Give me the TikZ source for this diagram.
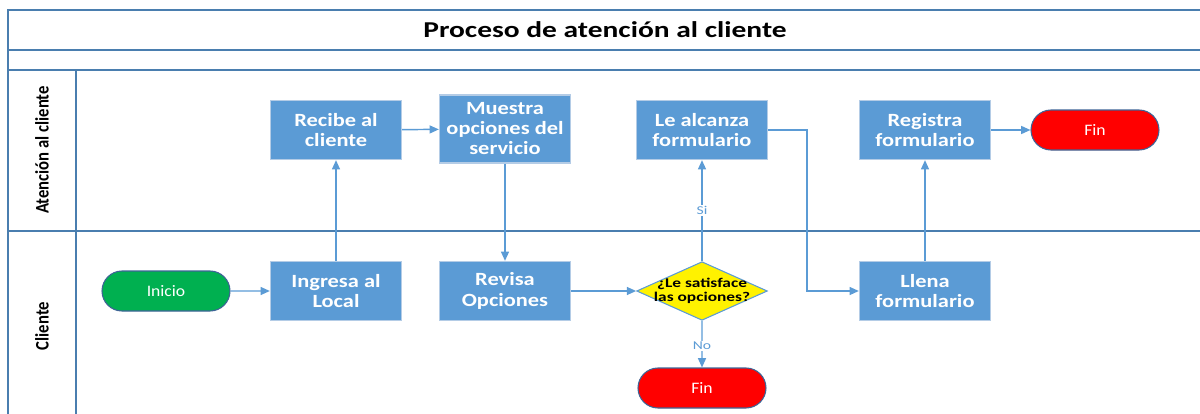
\documentclass[tikz,border=0pt]{standalone}
\usepackage{fontspec}
\setmainfont{Carlito}
\newfontfamily\stfontA[FakeStretch=1.2]{Carlito}
\newfontfamily\stfontB[FakeStretch=1.3]{Carlito}
\newfontfamily\stfontC[FakeStretch=1.1]{Carlito}
\usetikzlibrary{shapes.geometric,shapes.misc,arrows.meta}
\definecolor{boxblue}{HTML}{5B9BD5}
\definecolor{lanec}{HTML}{4A7EAF}
\definecolor{boxedge}{HTML}{B4CCE6}
\definecolor{termedge}{HTML}{3E6496}
\definecolor{startg}{HTML}{00B050}
\definecolor{endr}{HTML}{FF0000}
\begin{document}
\begin{tikzpicture}[x=0.75pt,y=-0.75pt,
  procbox/.style={draw=boxedge, line width=1.2pt, fill=boxblue, text=white,
    font=\stfontA\bfseries\fontsize{14}{15.5}\selectfont, align=center,
    minimum width=98pt, minimum height=44pt, inner sep=1pt},
  term/.style={rounded rectangle, draw=termedge, line width=0.8pt, text=white,
    font=\stfontC\fontsize{12}{14}\selectfont, minimum width=98pt, minimum height=30pt, inner sep=1pt},
  decis/.style={diamond, draw=boxblue, line width=0.8pt, fill=yellow,
    minimum width=98pt, minimum height=44pt, inner sep=0pt},
  lane/.style={draw=lanec, line width=1.1pt},
  conn/.style={draw=boxblue, line width=1.1pt, -{Triangle[length=7pt,width=6pt]}},
  edgelab/.style={fill=white, text=boxblue, font=\stfontB\fontsize{9}{10}\selectfont, inner sep=1pt},
  lanelab/.style={rotate=90, font=\bfseries\fontsize{12.5}{14}\selectfont}
]
\useasboundingbox (0,0) rectangle (1200,414);
% frame and lanes
\draw[lane] (8,414) -- (8,10) -- (1200,10);
\draw[lane] (8,50) -- (1200,50);
\draw[lane] (8,70) -- (1200,70);
\draw[lane] (8,231) -- (1200,231);
\draw[lane] (76,70) -- (76,414);
\node[font=\stfontB\bfseries\fontsize{17}{19}\selectfont] (title) at (605,30) {Proceso de atención al cliente};
\node[lanelab] (lane1) at (42,150) {\scalebox{1}[1.15]{Atención al cliente}};
\node[lanelab] (lane2) at (42,326) {\scalebox{1}[1.15]{Cliente}};
% nodes
\node[procbox] (recibe) at (336,130) {Recibe al\\cliente};
\node[procbox, minimum height=51pt, font=\stfontA\bfseries\fontsize{14}{15}\selectfont] (muestra) at (505,129) {Muestra\\opciones del\\servicio};
\node[procbox] (alcanza) at (702,130) {Le alcanza\\formulario};
\node[procbox] (registra) at (925,130) {Registra\\formulario};
\node[term, fill=endr] (fin1) at (1095,130) {Fin};
\node[term, fill=startg] (inicio) at (166,291) {Inicio};
\node[procbox] (ingresa) at (336,291) {Ingresa al\\Local};
\node[procbox] (revisa) at (505,291) {Revisa\\Opciones};
\node[decis] (dec) at (702,291) {};
\node[font=\stfontB\bfseries\fontsize{10}{11}\selectfont, align=center, inner sep=0pt] (dectext) at (dec) {¿Le satisface\\las opciones?};
\node[procbox] (llena) at (925,291) {Llena\\formulario};
\node[term, fill=endr] (fin2) at (702,388) {Fin};
% connectors
\draw[conn] (inicio) -- (ingresa);
\draw[conn] (ingresa) -- (recibe);
\draw[conn] (recibe) -- (muestra);
\draw[conn] (muestra) -- (revisa);
\draw[conn] (revisa) -- (dec);
\draw[conn] (dec) -- node[edgelab, pos=0.5] {Si} (alcanza);
\draw[conn] (dec) -- node[edgelab, pos=0.54] {No} (fin2);
\draw[conn] (alcanza.east) -- ++(39,0) |- (llena.west);
\draw[conn] (llena) -- (registra);
\draw[conn] (registra) -- (fin1);
\end{tikzpicture}
\end{document}
